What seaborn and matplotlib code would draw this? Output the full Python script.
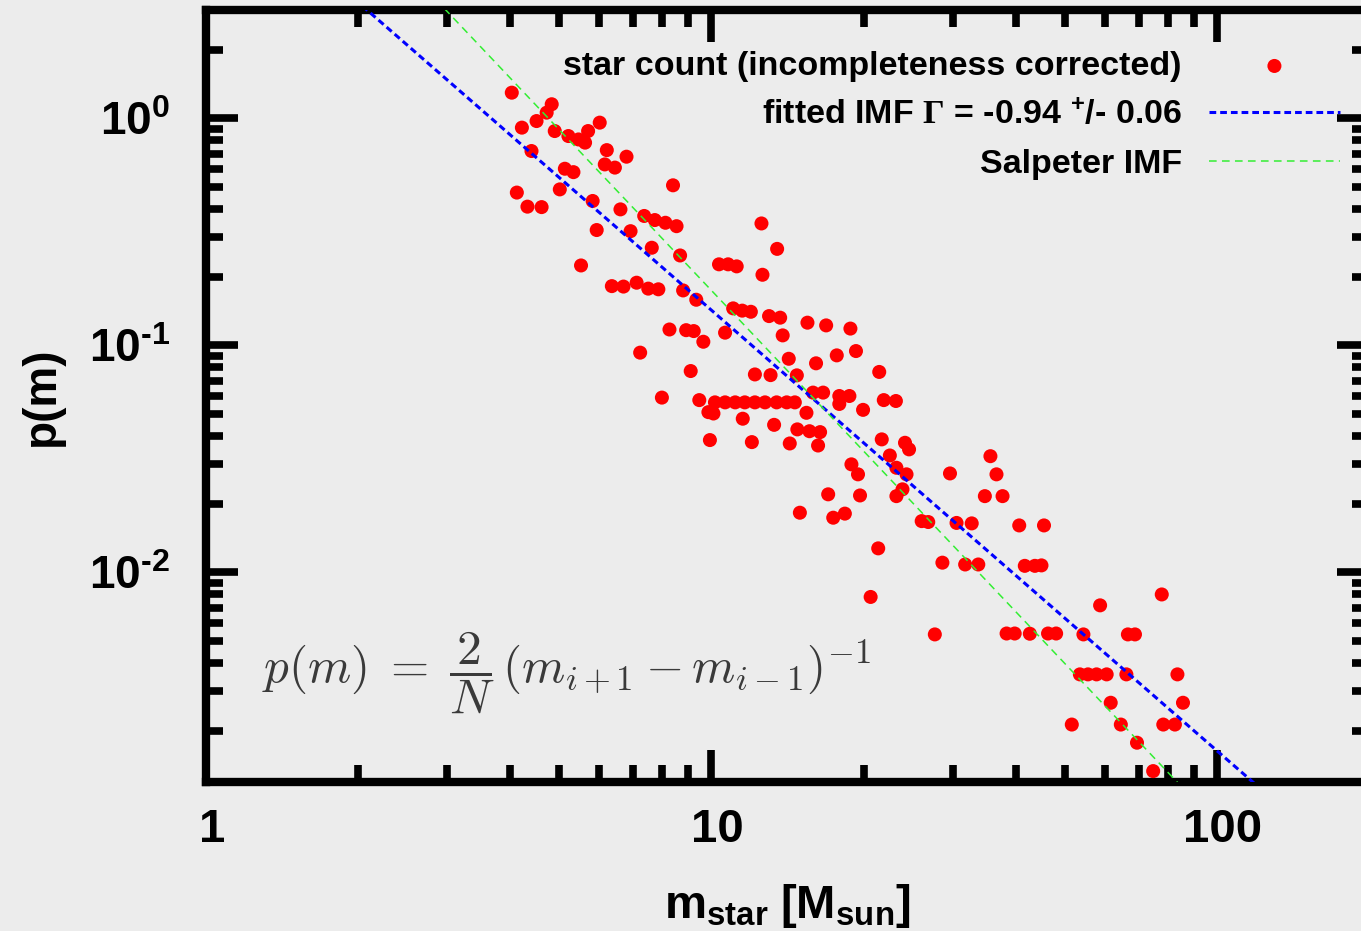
import numpy as np
import pandas as pd
import matplotlib
matplotlib.use("Agg")
import matplotlib.pyplot as plt
import matplotlib.transforms as mtransforms
import seaborn as sns
from matplotlib.ticker import (FixedLocator, FixedFormatter, LogLocator,
                               NullFormatter, FuncFormatter)

# Star counts, incompleteness corrected: log10 of stellar mass [M_sun]
log_mass = [
    0.605, 0.625, 0.654, 0.674, 0.684, 0.690, 0.717, 0.737, 0.750, 0.756,
    0.779, 0.644, 0.615, 0.636, 0.664, 0.700, 0.710, 0.727, 0.793, 0.832,
    0.789, 0.809, 0.765, 0.773, 0.742, 0.820, 0.840, 0.882, 0.924, 0.867,
    0.888, 0.909, 0.931, 0.938, 0.803, 0.826, 0.852, 0.875, 0.895, 0.944,
    0.970, 1.015, 1.033, 1.050, 1.099, 1.130, 1.101, 1.043, 1.061, 1.078,
    1.114, 1.136, 0.917, 0.950, 0.965, 0.984, 1.027, 1.141, 1.190, 1.227,
    1.275, 0.859, 0.959, 1.086, 1.117, 1.153, 1.169, 1.207, 1.248, 1.286,
    1.332, 0.902, 0.976, 1.007, 1.027, 1.047, 1.066, 1.086, 1.106, 1.129,
    1.149, 1.165, 0.994, 1.004, 1.062, 1.124, 1.188, 1.201, 1.221, 1.253,
    1.273, 1.253, 1.300, 1.341, 1.365, 1.170, 1.194, 1.215, 1.211, 1.155,
    1.080, 0.997, 1.337, 1.353, 1.277, 1.290, 1.366, 1.386, 1.231, 1.294,
    1.366, 1.378, 1.383, 1.391, 1.552, 1.472, 1.564, 1.541, 1.576, 1.175,
    1.241, 1.264, 1.416, 1.429, 1.485, 1.515, 1.609, 1.658, 1.330, 1.457,
    1.502, 1.528, 1.620, 1.640, 1.653, 1.315, 1.442, 1.891, 1.769, 1.584,
    1.600, 1.630, 1.666, 1.682, 1.736, 1.824, 1.838, 1.729, 1.745, 1.762,
    1.782, 1.821, 1.922, 1.790, 1.933, 1.713, 1.810, 1.894, 1.917, 1.842,
    1.874,
]
# log10 of the probability density p(m) for each star
log_p = [
    0.113, -0.041, -0.012, 0.025, 0.062, -0.056, -0.078, -0.093, -0.107, -0.056,
    -0.019, -0.144, -0.327, -0.389, -0.391, -0.313, -0.222, -0.237, -0.140, -0.169,
    -0.203, -0.217, -0.364, -0.492, -0.648, -0.401, -0.497, -0.570, -0.295, -0.430,
    -0.448, -0.460, -0.475, -0.604, -0.739, -0.741, -0.724, -0.750, -0.753, -0.758,
    -0.799, -0.643, -0.643, -0.652, -0.463, -0.575, -0.689, -0.837, -0.847, -0.852,
    -0.871, -0.878, -0.930, -0.933, -0.937, -0.984, -0.944, -0.956, -0.900, -0.912,
    -0.926, -1.032, -1.113, -1.128, -1.131, -1.059, -1.132, -1.079, -1.044, -1.025,
    -1.117, -1.230, -1.241, -1.251, -1.251, -1.251, -1.251, -1.251, -1.251, -1.251,
    -1.251, -1.251, -1.294, -1.300, -1.323, -1.350, -1.297, -1.208, -1.208, -1.223,
    -1.223, -1.258, -1.284, -1.241, -1.245, -1.370, -1.378, -1.382, -1.441, -1.432,
    -1.426, -1.417, -1.414, -1.485, -1.524, -1.568, -1.539, -1.568, -1.656, -1.661,
    -1.664, -1.634, -1.429, -1.458, -1.488, -1.564, -1.568, -1.664, -1.664, -1.737,
    -1.759, -1.741, -1.774, -1.778, -1.782, -1.784, -1.793, -1.793, -1.894, -1.957,
    -1.965, -1.965, -1.971, -1.971, -1.969, -2.108, -2.273, -2.097, -2.145, -2.269,
    -2.269, -2.270, -2.269, -2.269, -2.273, -2.273, -2.273, -2.449, -2.449, -2.449,
    -2.449, -2.449, -2.449, -2.574, -2.574, -2.670, -2.670, -2.670, -2.670, -2.750,
    -2.875,
]

# Power-law models p(m) = 10**norm * m**slope
gamma_fit = -0.94
gamma_err = 0.06
fit_log_norm = 1.095
salpeter_slope = -2.35
salpeter_log_norm = 1.592

x_ticks = [1, 10, 100]
x_tick_labels = ["1", "10", "100"]
y_ticks = [1e-2, 1e-1, 1e0]
x_range = (1, 200)
y_range = (0.0012, 3.0)

label_stars = "star count (incompleteness corrected)"
label_fit = (r"fitted IMF $\mathsf{\Gamma}$ = " + f"{gamma_fit:.2f}"
             + r" $^{+}$/- " + f"{gamma_err:.2f}")
label_salpeter = "Salpeter IMF"
formula = r"$p(m)\;=\;\dfrac{2}{N}\,(m_{i+1} - m_{i-1})^{-1}$"

stars = pd.DataFrame({"mass": np.power(10.0, log_mass),
                      "p": np.power(10.0, log_p)})
m_grid = np.logspace(np.log10(x_range[0]), np.log10(x_range[1]), 200)
fit_curve = pd.DataFrame({"mass": m_grid,
                          "p": 10 ** fit_log_norm * m_grid ** (gamma_fit - 1)})
salp_curve = pd.DataFrame({"mass": m_grid,
                           "p": 10 ** salpeter_log_norm * m_grid ** salpeter_slope})

sns.set_theme(style="ticks")
bg = "#ececec"
plt.rcParams.update({
    "font.family": ["Liberation Sans", "DejaVu Sans"],
    "font.weight": "bold",
    "axes.labelweight": "bold",
    "mathtext.fontset": "custom",
    "mathtext.rm": "Liberation Sans:bold",
    "mathtext.it": "Liberation Sans:bold",
    "mathtext.bf": "Liberation Sans:bold",
    "mathtext.sf": "Liberation Serif",
    "axes.linewidth": 6,
    "axes.edgecolor": "black",
    "text.color": "black",
    "axes.labelcolor": "black",
    "xtick.color": "black",
    "ytick.color": "black",
})

W, H = 1361, 931
fig = plt.figure(figsize=(W / 100, H / 100), dpi=100, facecolor=bg)
ax = fig.add_axes([206 / W, (H - 781.5) / H, 1163 / W, 771.5 / H])
ax.set_facecolor(bg)
ax.set_xscale("log")
ax.set_yscale("log")

sns.scatterplot(data=stars, x="mass", y="p", ax=ax, color="#ff0000", s=102,
                linewidth=0, edgecolor="none", label=label_stars, zorder=3,
                legend=False)
sns.lineplot(data=fit_curve, x="mass", y="p", ax=ax, color="#0000ff", lw=2.2,
             linestyle=(0, (2.2, 1.3)), label=label_fit, legend=False, zorder=4)
sns.lineplot(data=salp_curve, x="mass", y="p", ax=ax, color="#33ee33", lw=1.1,
             linestyle=(0, (5, 3.5)), label=label_salpeter, legend=False, zorder=4)

ax.set_xlim(*x_range)
ax.set_ylim(*y_range)


def decade_label(value, pos):
    exponent = int(round(np.log10(value)))
    if exponent < 0:
        return r"$\mathdefault{10^{\text{-}%d}}$" % (-exponent)
    return r"$\mathdefault{10^{%d}}$" % exponent


ax.xaxis.set_major_locator(FixedLocator(x_ticks))
ax.xaxis.set_major_formatter(FixedFormatter(x_tick_labels))
ax.xaxis.set_minor_locator(LogLocator(base=10, subs=np.arange(2, 10), numticks=20))
ax.xaxis.set_minor_formatter(NullFormatter())
ax.yaxis.set_major_locator(FixedLocator(y_ticks))
ax.yaxis.set_major_formatter(FuncFormatter(decade_label))
ax.yaxis.set_minor_locator(LogLocator(base=10, subs=np.arange(2, 10), numticks=20))
ax.yaxis.set_minor_formatter(NullFormatter())

ax.tick_params(which="both", direction="in", top=True, right=True, width=5.5)
ax.tick_params(which="major", length=23)
ax.tick_params(which="minor", length=12)
ax.tick_params(axis="x", which="major", pad=19, labelsize=34)
ax.tick_params(axis="y", which="major", pad=26, labelsize=33)
shift = mtransforms.ScaledTranslation(6 / 100, 0, fig.dpi_scale_trans)
for lab in ax.get_xticklabels():
    lab.set_fontweight("bold")
    lab.set_transform(lab.get_transform() + shift)
for lab in ax.get_yticklabels():
    lab.set_fontweight("bold")

ax.set_xlabel(r"$\mathdefault{m_{star}\;[M_{sun}]}$", fontsize=34,
              fontweight="bold", labelpad=22)
ax.set_ylabel("p(m)", fontsize=33, fontweight="bold", labelpad=18)

ax.text(0.048, 0.142, formula, transform=ax.transAxes, ha="left", va="center",
        fontsize=35.5, color="#3a3a3a", math_fontfamily="cm")

handles, labels = ax.get_legend_handles_labels()
leg = ax.legend(handles, labels, loc="upper right", bbox_to_anchor=(0.975, 0.947),
                markerfirst=False, frameon=False, fontsize=24.5, handlelength=3.85,
                handletextpad=0.8, labelspacing=0.52, borderpad=0,
                borderaxespad=0, scatterpoints=1, numpoints=1)
for t in leg.get_texts():
    t.set_fontweight("bold")

fig.savefig("out.png", dpi=100, facecolor=bg)
